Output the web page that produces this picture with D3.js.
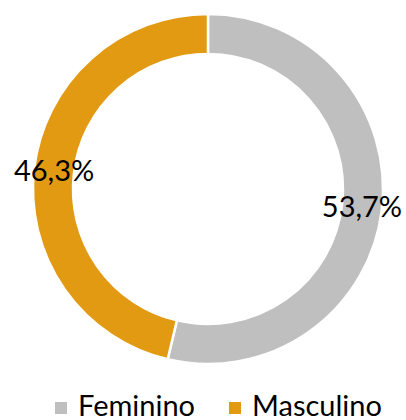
<!DOCTYPE html>
<html><head><meta charset="utf-8">
<script src="https://cdn.jsdelivr.net/npm/d3@7"></script>
<style>html,body{margin:0;padding:0;background:#fff;}svg{display:block;}</style>
</head><body>
<svg id="c" width="406" height="420"></svg>
<script>
const categories = ["Feminino", "Masculino"];
const values = [53.7, 46.3];
const labels = ["53,7%", "46,3%"];
const colors = ["#BFBFBF", "#E39A13"];

const svg = d3.select("#c");
const cx = 208, cy = 189, outerR = 175, innerR = 135;
const font = "Lato, 'Open Sans', sans-serif";

const pie = d3.pie().sort(null).value(d => d)(values);
const arc = d3.arc().innerRadius(innerR).outerRadius(outerR);
const labelArc = d3.arc().innerRadius(155).outerRadius(155);

const g = svg.append("g").attr("transform", `translate(${cx},${cy})`);
g.selectAll("path").data(pie).join("path")
  .attr("d", arc)
  .attr("fill", (d, i) => colors[i])
  .attr("stroke", "#fff").attr("stroke-width", 2.5);

g.selectAll("text").data(pie).join("text")
  .attr("transform", d => `translate(${labelArc.centroid(d)})`)
  .attr("text-anchor", "middle").attr("dy", "0.36em")
  .attr("font-family", font).attr("font-size", 29).attr("fill", "#000")
  .text((d, i) => labels[i]);

const legendX = [55, 229];
const lg = svg.append("g");
categories.forEach((c, i) => {
  lg.append("rect").attr("x", legendX[i]).attr("y", 402).attr("width", 12).attr("height", 12).attr("fill", colors[i]);
  lg.append("text").attr("x", legendX[i] + 23).attr("y", 416)
    .attr("font-family", font).attr("font-size", 29).attr("fill", "#000").text(c);
});
</script>
</body></html>
